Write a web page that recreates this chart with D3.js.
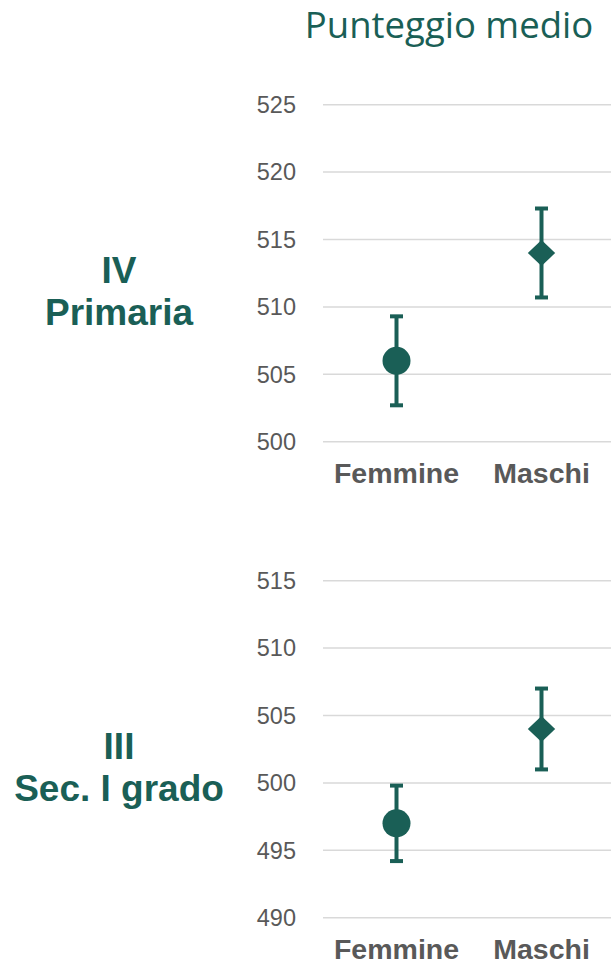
<!DOCTYPE html>
<html lang="it">
<head>
  <meta charset="UTF-8">
  <title>Punteggio medio</title>
  <script src="https://d3js.org/d3.v7.min.js"></script>
  <style>
    html, body {
      margin: 0;
      padding: 0;
      background: #fff;
      overflow: hidden;
    }
    svg {
      display: block;
    }
  </style>
</head>
<body>
<svg width="611" height="966"></svg>

<script>
  // data
  const genders = ["Femmine", "Maschi"];
  const panels = ["IV Primaria", "III Sec. I grado"];
  const panelLabels = [["IV", "Primaria"], ["III", "Sec. I grado"]];
  const means = [[506, 514], [497, 504]];
  const errLow = [[502.7, 510.7], [494.2, 501.0]];
  const errHigh = [[509.3, 517.3], [499.8, 507.0]];
  const yDomains = [[500, 525], [490, 515]];
  const yTicks = [[500, 505, 510, 515, 520, 525], [490, 495, 500, 505, 510, 515]];

  const green = "#1a5f56";
  const grey = "#595959";
  const gridColor = "#d9d9d9";

  const svg = d3.select("svg");

  svg.append("text")
    .attr("x", 449)
    .attr("y", 38)
    .attr("text-anchor", "middle")
    .attr("font-family", "'Open Sans', sans-serif")
    .attr("font-size", 36.5)
    .attr("fill", green)
    .text("Punteggio medio");

  const x = d3.scalePoint()
    .domain(genders)
    .range([324, 614])
    .padding(0.5);

  const gridLeft = 323, gridRight = 611;
  const panelTop = [104.7, 580.7];
  const panelBottom = [441.7, 917.7];

  panels.forEach((p, i) => {
    const y = d3.scaleLinear()
      .domain(yDomains[i])
      .range([panelBottom[i], panelTop[i]]);

    const g = svg.append("g");

    // gridlines
    g.append("g")
      .selectAll("line")
      .data(yTicks[i])
      .join("line")
      .attr("x1", gridLeft)
      .attr("x2", gridRight)
      .attr("y1", d => y(d))
      .attr("y2", d => y(d))
      .attr("stroke", gridColor)
      .attr("stroke-width", 1.5);

    // tick labels
    g.append("g")
      .selectAll("text")
      .data(yTicks[i])
      .join("text")
      .attr("x", 296)
      .attr("y", d => y(d))
      .attr("dy", "0.35em")
      .attr("text-anchor", "end")
      .attr("font-family", "'Liberation Sans', Arial, sans-serif")
      .attr("font-size", 23.5)
      .attr("fill", grey)
      .text(d => d);

    // category labels
    g.append("g")
      .selectAll("text")
      .data(genders)
      .join("text")
      .attr("x", d => x(d))
      .attr("y", panelBottom[i] + 41)
      .attr("text-anchor", "middle")
      .attr("font-family", "'Liberation Sans', Arial, sans-serif")
      .attr("font-weight", "bold")
      .attr("font-size", 28.5)
      .attr("fill", grey)
      .text(d => d);

    // row label
    const rl = g.append("text")
      .attr("text-anchor", "middle")
      .attr("font-family", "'Liberation Sans', Arial, sans-serif")
      .attr("font-weight", "bold")
      .attr("font-size", 37)
      .attr("fill", green);
    const midY = y((yDomains[i][0] + yDomains[i][1]) / 2);
    rl.selectAll("tspan")
      .data(panelLabels[i])
      .join("tspan")
      .attr("x", 119)
      .attr("y", (d, k) => midY + 10 + k * 42)
      .text(d => d);

    // error bars
    const rows = genders.map((gname, k) => ({
      g: gname, m: means[i][k], lo: errLow[i][k], hi: errHigh[i][k]
    }));

    const eb = g.append("g")
      .attr("stroke", green)
      .attr("stroke-width", 4);

    eb.selectAll("line.stem")
      .data(rows)
      .join("line")
      .attr("class", "stem")
      .attr("x1", d => x(d.g))
      .attr("x2", d => x(d.g))
      .attr("y1", d => y(d.lo))
      .attr("y2", d => y(d.hi));

    ["lo", "hi"].forEach(key => {
      eb.selectAll("line.cap-" + key)
        .data(rows)
        .join("line")
        .attr("class", "cap-" + key)
        .attr("x1", d => x(d.g) - 6.5)
        .attr("x2", d => x(d.g) + 6.5)
        .attr("y1", d => y(d[key]))
        .attr("y2", d => y(d[key]));
    });

    // markers
    g.append("circle")
      .attr("cx", x(rows[0].g))
      .attr("cy", y(rows[0].m))
      .attr("r", 14)
      .attr("fill", green);

    const dx = 13.7, dy = 13;
    g.append("path")
      .attr("transform", `translate(${x(rows[1].g)},${y(rows[1].m)})`)
      .attr("d", `M0,${-dy}L${dx},0L0,${dy}L${-dx},0Z`)
      .attr("fill", green);
  });
</script>
</body>
</html>
